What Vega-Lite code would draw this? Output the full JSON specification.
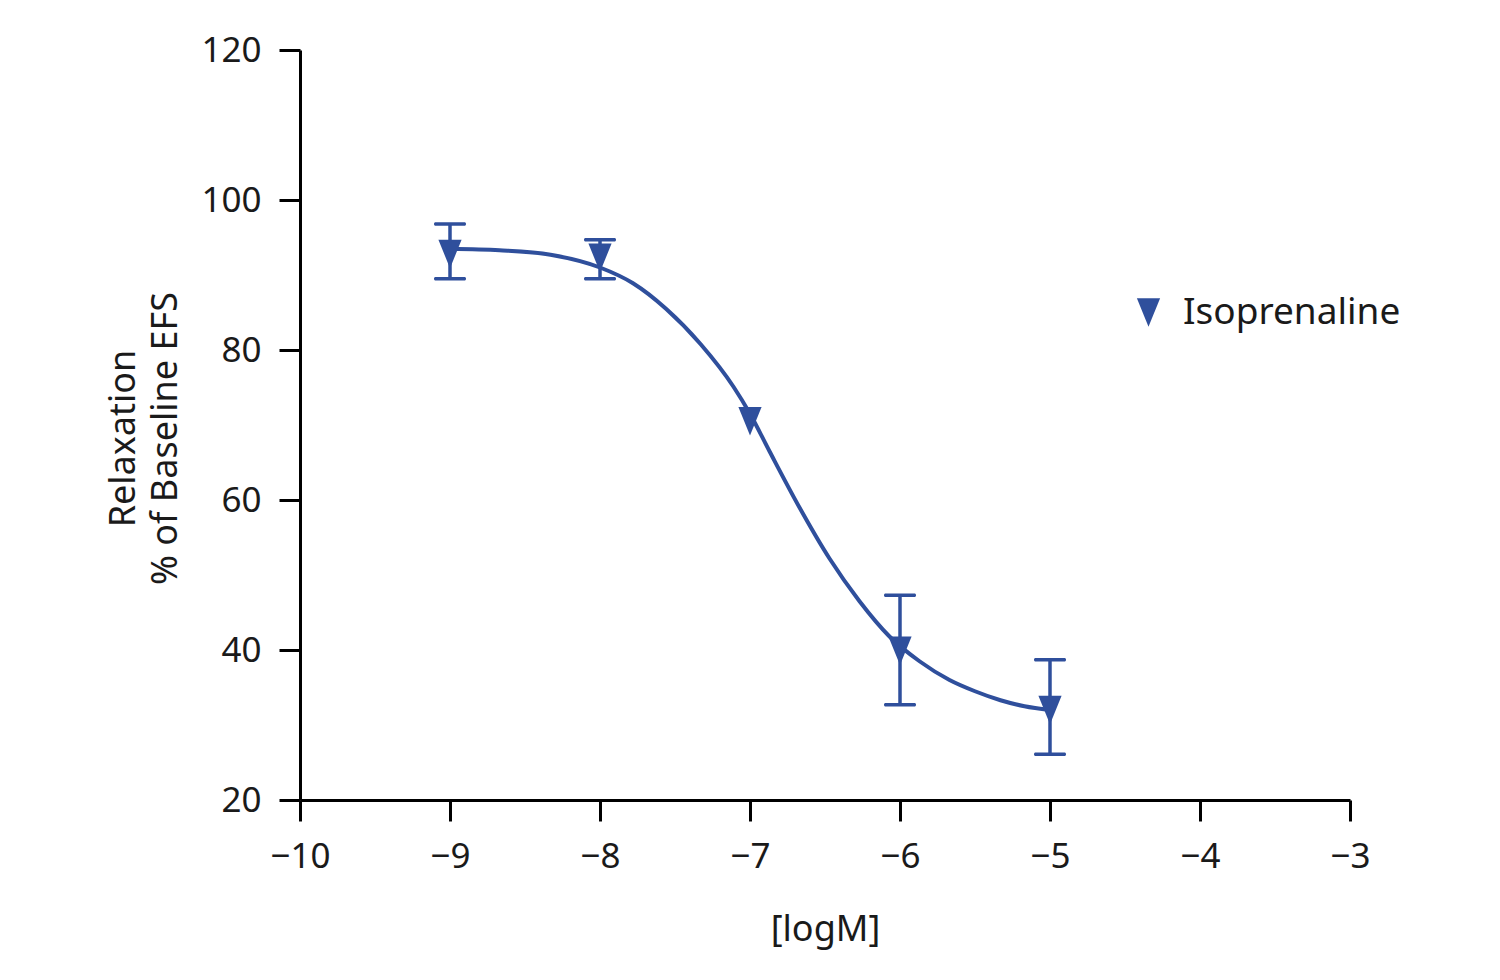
{
  "$schema": "https://vega.github.io/schema/vega-lite/v6.json",
  "width": 1050,
  "height": 750,
  "autosize": "none",
  "padding": {"left": 300, "top": 50, "right": 150, "bottom": 180},
  "background": "white",
  "config": {
    "view": {"stroke": null},
    "font": "Noto Sans",
    "axis": {
      "domainColor": "black",
      "domainWidth": 3,
      "tickColor": "black",
      "tickWidth": 3,
      "tickSize": 21,
      "labelPadding": 18,
      "labelFontSize": 35,
      "labelColor": "#1a1a1a",
      "labelFont": "Noto Sans",
      "labelFlush": false,
      "titleFont": "Noto Sans",
      "titleFontSize": 36,
      "titleFontWeight": "normal",
      "titleColor": "#1a1a1a",
      "grid": false
    },
    "legend": {
      "labelFont": "Noto Sans",
      "labelFontSize": 37,
      "labelColor": "#1a1a1a",
      "labelLimit": 0
    }
  },
  "datasets": {
    "curve": [
      {"logM": -9.0, "relax": 93.5},
      {"logM": -8.67, "relax": 93.3},
      {"logM": -8.33, "relax": 92.7},
      {"logM": -8.0, "relax": 91.0},
      {"logM": -7.78, "relax": 88.9},
      {"logM": -7.56, "relax": 85.5},
      {"logM": -7.33, "relax": 80.8},
      {"logM": -7.11, "relax": 75.1},
      {"logM": -7.0, "relax": 71.5},
      {"logM": -6.87, "relax": 66.5},
      {"logM": -6.67, "relax": 59.0},
      {"logM": -6.47, "relax": 52.2},
      {"logM": -6.27, "relax": 46.5},
      {"logM": -6.07, "relax": 41.8},
      {"logM": -5.87, "relax": 38.5},
      {"logM": -5.67, "relax": 36.0},
      {"logM": -5.5, "relax": 34.5},
      {"logM": -5.33, "relax": 33.3},
      {"logM": -5.17, "relax": 32.5},
      {"logM": -5.0, "relax": 32.0}
    ],
    "points": [
      {"logM": -9, "relax": 92.8, "lo": 89.5, "hi": 96.8, "drug": "Isoprenaline"},
      {"logM": -8, "relax": 92.3, "lo": 89.5, "hi": 94.7, "drug": "Isoprenaline"},
      {"logM": -7, "relax": 70.5, "lo": null, "hi": null, "drug": "Isoprenaline"},
      {"logM": -6, "relax": 39.9, "lo": 32.7, "hi": 47.3, "drug": "Isoprenaline"},
      {"logM": -5, "relax": 32.0, "lo": 26.1, "hi": 38.7, "drug": "Isoprenaline"}
    ]
  },
  "layer": [
    {
      "data": {"name": "curve"},
      "mark": {"type": "line", "color": "#2f4f9c", "strokeWidth": 4, "interpolate": "monotone"},
      "encoding": {
        "x": {
          "field": "logM",
          "type": "quantitative",
          "scale": {"domain": [-10, -3], "nice": false, "zero": false},
          "axis": {"values": [-10, -9, -8, -7, -6, -5, -4, -3], "format": "d", "title": "[logM]", "titlePadding": 38}
        },
        "y": {
          "field": "relax",
          "type": "quantitative",
          "scale": {"domain": [20, 120], "nice": false, "zero": false},
          "axis": {
            "values": [20, 40, 60, 80, 100, 120],
            "title": ["Relaxation", "% of Baseline EFS"],
            "titleLineHeight": 42,
            "titleAlign": "center",
            "titleBaseline": "alphabetic",
            "titleAngle": -90,
            "titleX": -166,
            "titleY": 388
          }
        }
      }
    },
    {
      "data": {"name": "points"},
      "mark": {"type": "rule", "color": "#2f4f9c", "strokeWidth": 3.5, "opacity": 1},
      "encoding": {
        "x": {"field": "logM", "type": "quantitative"},
        "y": {"field": "lo", "type": "quantitative"},
        "y2": {"field": "hi"}
      }
    },
    {
      "data": {"name": "points"},
      "mark": {"type": "tick", "orient": "horizontal", "color": "#2f4f9c", "opacity": 1, "size": 32, "thickness": 3.5, "cornerRadius": 1.5},
      "encoding": {
        "x": {"field": "logM", "type": "quantitative"},
        "y": {"field": "lo", "type": "quantitative"}
      }
    },
    {
      "data": {"name": "points"},
      "mark": {"type": "tick", "orient": "horizontal", "color": "#2f4f9c", "opacity": 1, "size": 32, "thickness": 3.5, "cornerRadius": 1.5},
      "encoding": {
        "x": {"field": "logM", "type": "quantitative"},
        "y": {"field": "hi", "type": "quantitative"}
      }
    },
    {
      "data": {"name": "points"},
      "mark": {"type": "point", "filled": true, "opacity": 1, "size": 800},
      "encoding": {
        "x": {"field": "logM", "type": "quantitative"},
        "y": {"field": "relax", "type": "quantitative"},
        "color": {
          "field": "drug",
          "type": "nominal",
          "scale": {"domain": ["Isoprenaline"], "range": ["#2f4f9c"]},
          "legend": {
            "title": null,
            "orient": "none",
            "legendX": 830,
            "legendY": 244,
            "symbolSize": 800,
            "labelOffset": 16,
            "symbolOpacity": 1
          }
        },
        "shape": {
          "field": "drug",
          "type": "nominal",
          "scale": {"domain": ["Isoprenaline"], "range": ["M-0.82,-1L0.82,-1L0,1Z"]},
          "legend": null
        }
      }
    }
  ]
}
